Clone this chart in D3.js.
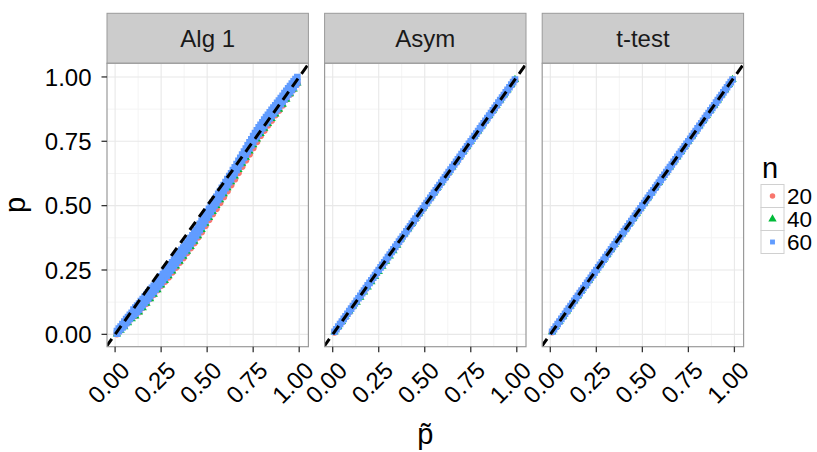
<!DOCTYPE html>
<html>
<head>
<meta charset="utf-8">
<script src="https://cdn.jsdelivr.net/npm/d3@7"></script>
<style>
  body { margin: 0; background: #fff; }
  text { font-family: "Liberation Sans", Arial, Helvetica, sans-serif; }
</style>
</head>
<body>
<script>
const facets = ['Alg 1', 'Asym', 't-test'];
const nLevels = ['20', '40', '60'];
const nColors = ['#F8766D', '#00BA38', '#619CFF'];
const tickValues = [0, 0.25, 0.5, 0.75, 1];
const tickLabels = ['0.00', '0.25', '0.50', '0.75', '1.00'];
const minorTicks = [0.125, 0.375, 0.625, 0.875];

// p-tilde values, coarse (n = 20, 40) and fine (n = 60)
const pTilde = [0.01, 0.03, 0.05, 0.07, 0.09, 0.11, 0.13, 0.15, 0.17, 0.19,
    0.21, 0.23, 0.25, 0.27, 0.29, 0.31, 0.33, 0.35, 0.37, 0.39,
    0.41, 0.43, 0.45, 0.47, 0.49, 0.51, 0.53, 0.55, 0.57, 0.59,
    0.61, 0.63, 0.65, 0.67, 0.69, 0.71, 0.73, 0.75, 0.77, 0.79,
    0.81, 0.83, 0.85, 0.87, 0.89, 0.91, 0.93, 0.95, 0.97, 0.99];
const pTildeFine = [0.01, 0.02, 0.03, 0.04, 0.05, 0.06, 0.07, 0.08, 0.09, 0.10,
    0.11, 0.12, 0.13, 0.14, 0.15, 0.16, 0.17, 0.18, 0.19, 0.20,
    0.21, 0.22, 0.23, 0.24, 0.25, 0.26, 0.27, 0.28, 0.29, 0.30,
    0.31, 0.32, 0.33, 0.34, 0.35, 0.36, 0.37, 0.38, 0.39, 0.40,
    0.41, 0.42, 0.43, 0.44, 0.45, 0.46, 0.47, 0.48, 0.49, 0.50,
    0.51, 0.52, 0.53, 0.54, 0.55, 0.56, 0.57, 0.58, 0.59, 0.60,
    0.61, 0.62, 0.63, 0.64, 0.65, 0.66, 0.67, 0.68, 0.69, 0.70,
    0.71, 0.72, 0.73, 0.74, 0.75, 0.76, 0.77, 0.78, 0.79, 0.80,
    0.81, 0.82, 0.83, 0.84, 0.85, 0.86, 0.87, 0.88, 0.89, 0.90,
    0.91, 0.92, 0.93, 0.94, 0.95, 0.96, 0.97, 0.98, 0.99];

// Alg 1 : p
const alg1N20 = [0.001, 0.017, 0.031, 0.047, 0.064, 0.072, 0.087, 0.104, 0.120, 0.138,
    0.155, 0.172, 0.190, 0.205, 0.222, 0.241, 0.260, 0.279, 0.297, 0.316,
    0.335, 0.355, 0.377, 0.398, 0.422, 0.445, 0.468, 0.488, 0.511, 0.534,
    0.557, 0.580, 0.603, 0.628, 0.652, 0.676, 0.700, 0.724, 0.748, 0.772,
    0.792, 0.812, 0.831, 0.852, 0.870, 0.890, 0.913, 0.933, 0.952, 0.974];
const alg1N40 = [0.001, 0.016, 0.029, 0.045, 0.060, 0.071, 0.086, 0.103, 0.120, 0.138,
    0.155, 0.173, 0.191, 0.209, 0.227, 0.246, 0.265, 0.284, 0.303, 0.322,
    0.341, 0.361, 0.383, 0.407, 0.431, 0.454, 0.477, 0.500, 0.523, 0.546,
    0.569, 0.592, 0.615, 0.640, 0.664, 0.688, 0.712, 0.736, 0.759, 0.780,
    0.800, 0.819, 0.838, 0.856, 0.874, 0.894, 0.913, 0.934, 0.953, 0.976];
const alg1N60Low = [0.003, 0.012, 0.020, 0.027, 0.034, 0.043, 0.051, 0.060, 0.068, 0.074,
    0.080, 0.088, 0.096, 0.105, 0.113, 0.122, 0.130, 0.139, 0.148, 0.157,
    0.165, 0.174, 0.183, 0.192, 0.201, 0.210, 0.219, 0.228, 0.237, 0.247,
    0.256, 0.266, 0.275, 0.285, 0.294, 0.304, 0.313, 0.323, 0.332, 0.342,
    0.351, 0.361, 0.371, 0.382, 0.393, 0.405, 0.417, 0.429, 0.441, 0.453,
    0.464, 0.476, 0.487, 0.499, 0.510, 0.522, 0.533, 0.545, 0.556, 0.568,
    0.579, 0.591, 0.602, 0.614, 0.625, 0.638, 0.650, 0.662, 0.674, 0.686,
    0.698, 0.710, 0.722, 0.734, 0.746, 0.758, 0.769, 0.780, 0.790, 0.800,
    0.810, 0.820, 0.829, 0.839, 0.848, 0.857, 0.866, 0.875, 0.884, 0.894,
    0.903, 0.913, 0.922, 0.932, 0.941, 0.950, 0.959, 0.970, 0.980];
const alg1N60High = [0.013, 0.022, 0.030, 0.040, 0.050, 0.059, 0.067, 0.076, 0.084, 0.096,
    0.104, 0.112, 0.120, 0.129, 0.137, 0.146, 0.154, 0.163, 0.172, 0.181,
    0.189, 0.198, 0.207, 0.216, 0.225, 0.234, 0.243, 0.252, 0.261, 0.271,
    0.280, 0.290, 0.299, 0.309, 0.318, 0.328, 0.337, 0.347, 0.356, 0.366,
    0.375, 0.385, 0.395, 0.406, 0.417, 0.429, 0.441, 0.453, 0.465, 0.477,
    0.488, 0.500, 0.511, 0.523, 0.534, 0.546, 0.557, 0.569, 0.580, 0.592,
    0.603, 0.615, 0.626, 0.638, 0.649, 0.662, 0.674, 0.686, 0.698, 0.710,
    0.722, 0.734, 0.746, 0.758, 0.770, 0.782, 0.793, 0.804, 0.814, 0.824,
    0.834, 0.844, 0.853, 0.863, 0.872, 0.881, 0.890, 0.899, 0.908, 0.918,
    0.927, 0.937, 0.946, 0.956, 0.965, 0.974, 0.983, 0.992, 1.000];

// Asym
const asymN20 = [0.008, 0.028, 0.048, 0.068, 0.088, 0.108, 0.128, 0.148, 0.168, 0.188,
    0.208, 0.228, 0.248, 0.268, 0.288, 0.308, 0.328, 0.348, 0.368, 0.388,
    0.408, 0.428, 0.448, 0.468, 0.488, 0.508, 0.528, 0.548, 0.568, 0.588,
    0.608, 0.628, 0.648, 0.668, 0.688, 0.708, 0.728, 0.748, 0.768, 0.788,
    0.808, 0.828, 0.848, 0.868, 0.888, 0.908, 0.928, 0.948, 0.968, 0.988];
const asymN40 = [0.01, 0.03, 0.05, 0.07, 0.09, 0.11, 0.124, 0.144, 0.164, 0.184,
    0.204, 0.224, 0.244, 0.264, 0.284, 0.304, 0.324, 0.346, 0.37, 0.39,
    0.41, 0.43, 0.45, 0.47, 0.49, 0.51, 0.53, 0.55, 0.57, 0.59,
    0.61, 0.63, 0.65, 0.67, 0.69, 0.71, 0.73, 0.75, 0.77, 0.79,
    0.81, 0.83, 0.85, 0.87, 0.89, 0.91, 0.93, 0.95, 0.97, 0.99];
const asymN60 = [0.01, 0.02, 0.03, 0.04, 0.05, 0.06, 0.07, 0.08, 0.09, 0.10,
    0.11, 0.12, 0.13, 0.14, 0.15, 0.16, 0.17, 0.18, 0.19, 0.20,
    0.21, 0.22, 0.23, 0.24, 0.25, 0.26, 0.27, 0.28, 0.29, 0.30,
    0.31, 0.32, 0.33, 0.34, 0.35, 0.36, 0.37, 0.38, 0.39, 0.40,
    0.41, 0.42, 0.43, 0.44, 0.45, 0.46, 0.47, 0.48, 0.49, 0.50,
    0.51, 0.52, 0.53, 0.54, 0.55, 0.56, 0.57, 0.58, 0.59, 0.60,
    0.61, 0.62, 0.63, 0.64, 0.65, 0.66, 0.67, 0.68, 0.69, 0.70,
    0.71, 0.72, 0.73, 0.74, 0.75, 0.76, 0.77, 0.78, 0.79, 0.80,
    0.81, 0.82, 0.83, 0.84, 0.85, 0.86, 0.87, 0.88, 0.89, 0.90,
    0.91, 0.92, 0.93, 0.94, 0.95, 0.96, 0.97, 0.98, 0.99];

// t-test
const ttestN20 = [0.009, 0.029, 0.049, 0.069, 0.089, 0.109, 0.129, 0.149, 0.169, 0.189,
    0.209, 0.229, 0.249, 0.269, 0.289, 0.309, 0.329, 0.349, 0.369, 0.389,
    0.409, 0.429, 0.449, 0.469, 0.489, 0.509, 0.529, 0.549, 0.569, 0.589,
    0.609, 0.629, 0.649, 0.669, 0.689, 0.709, 0.729, 0.749, 0.769, 0.789,
    0.809, 0.829, 0.849, 0.869, 0.889, 0.909, 0.929, 0.949, 0.969, 0.989];
const ttestN40 = [0.01, 0.03, 0.05, 0.07, 0.09, 0.11, 0.13, 0.15, 0.17, 0.19,
    0.21, 0.23, 0.25, 0.27, 0.29, 0.31, 0.33, 0.35, 0.37, 0.39,
    0.41, 0.43, 0.45, 0.47, 0.49, 0.51, 0.53, 0.55, 0.57, 0.59,
    0.61, 0.63, 0.65, 0.67, 0.69, 0.71, 0.73, 0.75, 0.77, 0.79,
    0.81, 0.83, 0.85, 0.87, 0.89, 0.91, 0.93, 0.95, 0.97, 0.99];
const ttestN60 = [0.01, 0.02, 0.03, 0.04, 0.05, 0.06, 0.07, 0.08, 0.09, 0.10,
    0.11, 0.12, 0.13, 0.14, 0.15, 0.16, 0.17, 0.18, 0.19, 0.20,
    0.21, 0.22, 0.23, 0.24, 0.25, 0.26, 0.27, 0.28, 0.29, 0.30,
    0.31, 0.32, 0.33, 0.34, 0.35, 0.36, 0.37, 0.38, 0.39, 0.40,
    0.41, 0.42, 0.43, 0.44, 0.45, 0.46, 0.47, 0.48, 0.49, 0.50,
    0.51, 0.52, 0.53, 0.54, 0.55, 0.56, 0.57, 0.58, 0.59, 0.60,
    0.61, 0.62, 0.63, 0.64, 0.65, 0.66, 0.67, 0.68, 0.69, 0.70,
    0.71, 0.72, 0.73, 0.74, 0.75, 0.76, 0.77, 0.78, 0.79, 0.80,
    0.81, 0.82, 0.83, 0.84, 0.85, 0.86, 0.87, 0.88, 0.89, 0.90,
    0.91, 0.92, 0.93, 0.94, 0.95, 0.96, 0.97, 0.98, 0.99];

// per facet, per n level: the p-tilde grid and its p arrays
const facetSeries = [
    [{grid: pTilde, ps: [alg1N20]}, {grid: pTilde, ps: [alg1N40]},
     {grid: pTildeFine, ps: [alg1N60Low, alg1N60High]}],
    [{grid: pTilde, ps: [asymN20]}, {grid: pTilde, ps: [asymN40]},
     {grid: pTildeFine, ps: [asymN60]}],
    [{grid: pTilde, ps: [ttestN20]}, {grid: pTilde, ps: [ttestN40]},
     {grid: pTildeFine, ps: [ttestN60]}]
];

const width = 817, height = 452;
const stripTop = 13.3, panelTop = 63.3, panelBottom = 346.7;
const panelLeft = 107, panelW = 201.4, panelStep = 217.6;
const borderCol = '#9a9a9a';

const x = d3.scaleLinear().domain([-0.044, 1.05]).range([0, panelW]);
const y = d3.scaleLinear().domain([-0.048, 1.053]).range([panelBottom, panelTop]);
const shapes = [d3.symbolCircle, d3.symbolTriangle, d3.symbolSquare];
const plotSizes = [38, 30, 44];

const svg = d3.select('body').append('svg')
    .attr('width', width)
    .attr('height', height);

facets.forEach((name, fi) => {
    const g = svg.append('g').attr('transform', `translate(${panelLeft + fi * panelStep},0)`);

    // strip
    g.append('rect')
        .attr('x', 0).attr('y', stripTop)
        .attr('width', panelW).attr('height', panelTop - stripTop)
        .attr('fill', '#CCCCCC').attr('stroke', borderCol);
    g.append('text')
        .attr('x', panelW / 2).attr('y', (stripTop + panelTop) / 2)
        .attr('dy', '0.36em')
        .attr('text-anchor', 'middle')
        .attr('font-size', 24)
        .attr('fill', '#1a1a1a')
        .text(name);

    g.append('rect')
        .attr('x', 0).attr('y', panelTop)
        .attr('width', panelW).attr('height', panelBottom - panelTop)
        .attr('fill', '#fff');

    // grid
    const grid = g.append('g');
    grid.selectAll('.vminor').data(minorTicks).join('line')
        .attr('x1', d => x(d)).attr('x2', d => x(d))
        .attr('y1', panelTop).attr('y2', panelBottom)
        .attr('stroke', '#f4f4f4').attr('stroke-width', 1);
    grid.selectAll('.hminor').data(minorTicks).join('line')
        .attr('y1', d => y(d)).attr('y2', d => y(d))
        .attr('x1', 0).attr('x2', panelW)
        .attr('stroke', '#f4f4f4').attr('stroke-width', 1);
    grid.selectAll('.vmajor').data(tickValues).join('line')
        .attr('x1', d => x(d)).attr('x2', d => x(d))
        .attr('y1', panelTop).attr('y2', panelBottom)
        .attr('stroke', '#e8e8e8').attr('stroke-width', 1.1);
    grid.selectAll('.hmajor').data(tickValues).join('line')
        .attr('y1', d => y(d)).attr('y2', d => y(d))
        .attr('x1', 0).attr('x2', panelW)
        .attr('stroke', '#e8e8e8').attr('stroke-width', 1.1);

    const clipId = 'clip' + fi;
    g.append('clipPath').attr('id', clipId)
        .append('rect')
        .attr('x', 0).attr('y', panelTop)
        .attr('width', panelW).attr('height', panelBottom - panelTop);

    const plot = g.append('g').attr('clip-path', `url(#${clipId})`);

    facetSeries[fi].forEach((series, si) => {
        const sym = d3.symbol().type(shapes[si]).size(plotSizes[si]);
        series.ps.forEach(arr => {
            plot.append('g').selectAll('path')
                .data(series.grid.map((t, i) => ({t: t, p: arr[i]})))
                .join('path')
                .attr('transform', d => `translate(${x(d.t)},${y(d.p)})`)
                .attr('d', sym)
                .attr('fill', nColors[si]);
        });
    });

    // y = x reference line
    plot.append('line')
        .attr('x1', x(-0.1)).attr('y1', y(-0.1))
        .attr('x2', x(1.1)).attr('y2', y(1.1))
        .attr('stroke', '#000')
        .attr('stroke-width', 3)
        .attr('stroke-dasharray', '10,6');

    g.append('rect')
        .attr('x', 0).attr('y', panelTop)
        .attr('width', panelW).attr('height', panelBottom - panelTop)
        .attr('fill', 'none').attr('stroke', borderCol).attr('stroke-width', 1.2);

    // x axis
    g.selectAll('.xtick').data(tickValues).join('line')
        .attr('x1', d => x(d)).attr('x2', d => x(d))
        .attr('y1', panelBottom).attr('y2', panelBottom + 5.5)
        .attr('stroke', '#333').attr('stroke-width', 1.3);
    g.selectAll('.xlab').data(tickValues).join('text')
        .attr('transform', d => `translate(${x(d) + 16},372) rotate(-45)`)
        .attr('text-anchor', 'end')
        .attr('font-size', 24)
        .attr('fill', '#000')
        .text((d, i) => tickLabels[i]);

    // y axis only on first facet
    if (fi === 0) {
        g.selectAll('.ytick').data(tickValues).join('line')
            .attr('x1', -5.5).attr('x2', 0)
            .attr('y1', d => y(d)).attr('y2', d => y(d))
            .attr('stroke', '#333').attr('stroke-width', 1.3);
        g.selectAll('.ylab').data(tickValues).join('text')
            .attr('x', -15.5).attr('y', d => y(d))
            .attr('dy', '0.36em')
            .attr('text-anchor', 'end')
            .attr('font-size', 24)
            .attr('fill', '#000')
            .text((d, i) => tickLabels[i]);
    }
});

// axis titles
svg.append('text')
    .attr('x', panelLeft + (2 * panelStep + panelW) / 2)
    .attr('y', 444)
    .attr('text-anchor', 'middle')
    .attr('font-size', 29)
    .text('p\u0303');
svg.append('text')
    .attr('transform', `translate(24.5,${(panelTop + panelBottom) / 2}) rotate(-90)`)
    .attr('text-anchor', 'middle')
    .attr('font-size', 29)
    .text('p');

// legend
const legend = svg.append('g').attr('transform', 'translate(761,0)');
legend.append('text')
    .attr('x', 1).attr('y', 178)
    .attr('font-size', 29)
    .text('n');
nLevels.forEach((lab, i) => {
    const ky = 184.5 + i * 23;
    legend.append('rect')
        .attr('x', 0).attr('y', ky)
        .attr('width', 23).attr('height', 23)
        .attr('fill', '#fff').attr('stroke', '#d0d0d0');
    legend.append('path')
        .attr('transform', `translate(11.5,${ky + 11.5})`)
        .attr('d', d3.symbol().type(shapes[i]).size(i === 1 ? 30 : 24))
        .attr('fill', nColors[i]);
    legend.append('text')
        .attr('x', 26).attr('y', ky + 11.5)
        .attr('dy', '0.35em')
        .attr('font-size', 22.5)
        .text(lab);
});
</script>
</body>
</html>
